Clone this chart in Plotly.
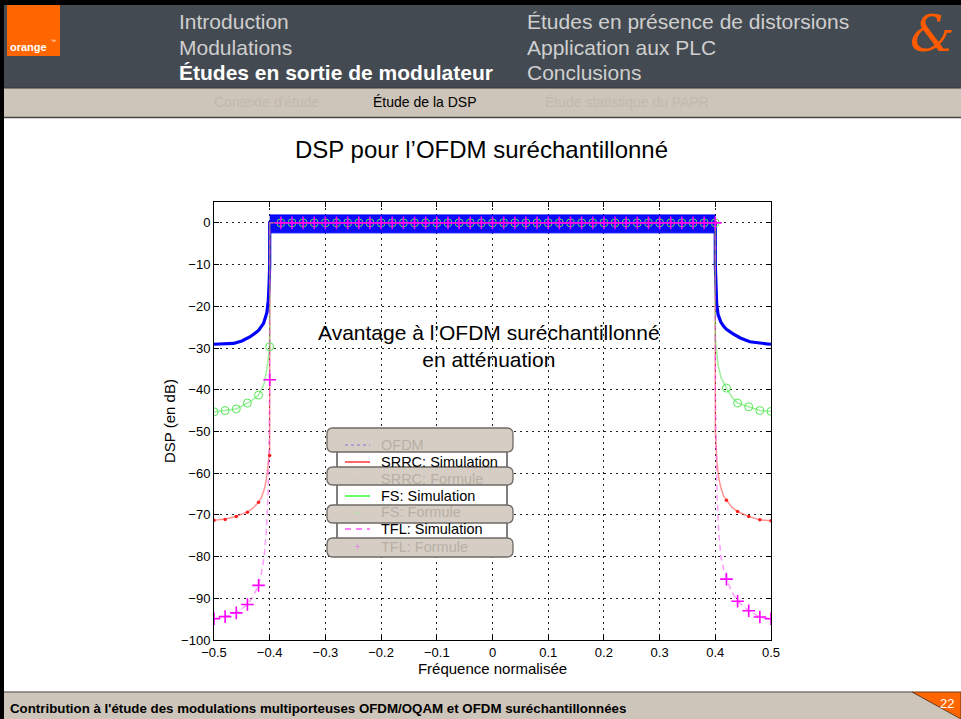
import plotly.graph_objects as go

# ---------------- data ----------------
freq_formula = [-0.50, -0.48, -0.46, -0.44, -0.42, -0.40, -0.38, -0.36, -0.34, -0.32,
                -0.30, -0.28, -0.26, -0.24, -0.22, -0.20, -0.18, -0.16, -0.14, -0.12,
                -0.10, -0.08, -0.06, -0.04, -0.02, 0.00, 0.02, 0.04, 0.06, 0.08,
                0.10, 0.12, 0.14, 0.16, 0.18, 0.20, 0.22, 0.24, 0.26, 0.28,
                0.30, 0.32, 0.34, 0.36, 0.38, 0.40, 0.42, 0.44, 0.46, 0.48, 0.50]
srrc_formula = [-71.3, -71.1, -70.4, -69.4, -67.0, -55.8, 0, 0, 0, 0,
                0, 0, 0, 0, 0, 0, 0, 0, 0, 0,
                0, 0, 0, 0, 0, 0, 0, 0, 0, 0,
                0, 0, 0, 0, 0, 0, 0, 0, 0, 0,
                0, 0, 0, 0, 0, 0, -66.5, -69.2, -70.4, -71.2, -71.4]
fs_formula = [-45.3, -45.0, -44.6, -43.2, -41.3, -29.7, 0, 0, 0, 0,
              0, 0, 0, 0, 0, 0, 0, 0, 0, 0,
              0, 0, 0, 0, 0, 0, 0, 0, 0, 0,
              0, 0, 0, 0, 0, 0, 0, 0, 0, 0,
              0, 0, 0, 0, 0, 0, -39.6, -43.2, -44.1, -45.0, -45.2]
tfl_formula = [-94.9, -94.4, -93.5, -91.5, -86.9, -37.6, 0, 0, 0, 0,
               0, 0, 0, 0, 0, 0, 0, 0, 0, 0,
               0, 0, 0, 0, 0, 0, 0, 0, 0, 0,
               0, 0, 0, 0, 0, 0, 0, 0, 0, 0,
               0, 0, 0, 0, 0, 0, -85.4, -90.7, -93.0, -94.5, -94.9]

ofdm_freq = [-0.5, -0.48, -0.465, -0.45, -0.435, -0.42, -0.411, -0.405, -0.4025, -0.401, -0.4, -0.4,
             0.4, 0.4, 0.401, 0.4025, 0.405, 0.41, 0.415, 0.42, 0.432, 0.445, 0.462, 0.48, 0.492, 0.5]
ofdm_dsp = [-29.1, -29.0, -28.9, -28.3, -27.3, -25.8, -24.1, -21.5, -18.6, -14.5, -10.0, 0.0,
            0.0, -10.0, -15.0, -19.5, -22.0, -23.8, -24.8, -25.5, -26.6, -27.6, -28.5, -28.9, -29.0, -29.1]
ofdm_band_freq = [-0.4, 0.4]
ofdm_band_upper = [1.9, 1.9]
ofdm_band_lower = [-2.4, -2.4]

srrc_sim_freq = [-0.5, -0.48, -0.46, -0.44, -0.43, -0.42, -0.415, -0.41, -0.406, -0.403, -0.401, -0.4, -0.4,
                 0.4, 0.4, 0.401, 0.403, 0.406, 0.41, 0.415, 0.42, 0.43, 0.44, 0.46, 0.48, 0.5]
srrc_sim_dsp = [-71.3, -71.0, -70.4, -69.3, -68.4, -67.0, -65.8, -64.0, -61.5, -58.5, -56.0, -54.5, 0.0,
                0.0, -50.0, -54.0, -57.5, -61.0, -63.5, -65.5, -66.5, -68.2, -69.2, -70.4, -71.2, -71.4]

fs_sim_freq = [-0.5, -0.48, -0.46, -0.44, -0.43, -0.42, -0.41, -0.405, -0.402, -0.4, -0.4,
               0.4, 0.4, 0.402, 0.405, 0.41, 0.42, 0.43, 0.44, 0.46, 0.48, 0.5]
fs_sim_dsp = [-45.3, -45.0, -44.6, -43.2, -42.4, -41.3, -38.5, -35.0, -32.0, -29.7, 0.0,
              0.0, -28.0, -31.0, -34.0, -37.0, -39.6, -41.8, -43.2, -44.1, -45.0, -45.2]

tfl_sim_freq = [-0.5, -0.48, -0.46, -0.44, -0.43, -0.42, -0.415, -0.41, -0.406, -0.403, -0.401, -0.4, -0.4,
                0.4, 0.4, 0.401, 0.403, 0.406, 0.41, 0.415, 0.42, 0.43, 0.44, 0.46, 0.48, 0.5]
tfl_sim_dsp = [-94.9, -94.4, -93.5, -91.5, -89.6, -86.9, -84.0, -80.0, -74.0, -65.0, -52.0, -40.0, 0.0,
               0.0, -40.0, -52.0, -65.0, -74.0, -80.0, -83.0, -85.4, -88.5, -90.7, -93.0, -94.5, -94.9]

x_tick_vals = [-0.5, -0.4, -0.3, -0.2, -0.1, 0.0, 0.1, 0.2, 0.3, 0.4, 0.5]
x_tick_text = ["\u22120.5", "\u22120.4", "\u22120.3", "\u22120.2", "\u22120.1", "0",
               "0.1", "0.2", "0.3", "0.4", "0.5"]
y_tick_vals = [0, -10, -20, -30, -40, -50, -60, -70, -80, -90, -100]
y_tick_text = ["0", "\u221210", "\u221220", "\u221230", "\u221240", "\u221250",
               "\u221260", "\u221270", "\u221280", "\u221290", "\u2212100"]

legend_labels = ["OFDM", "SRRC: Simulation", "SRRC: Formule", "FS: Simulation",
                 "FS: Formule", "TFL: Simulation", "TFL: Formule"]

nav_left = ["Introduction", "Modulations", "Études en sortie de modulateur"]
nav_right = ["Études en présence de distorsions", "Application aux PLC", "Conclusions"]
subnav = ["Contexte d'étude", "Étude de la DSP", "Étude statistique du PAPR"]

# ---------------- geometry helpers ----------------
W, H = 961, 719
L, R, T, B = 214, 771, 202, 640
FONT = "Liberation Sans, Arial, Helvetica, sans-serif"


def X(px):
    return (px - L) / (R - L)


def Y(py):
    return (B - py) / (B - T)


def rect(x0, y0, x1, y1, fill, line_color=None, line_width=0, layer="above"):
    return dict(type="rect", xref="paper", yref="paper", x0=X(x0), x1=X(x1), y0=Y(y1), y1=Y(y0),
                fillcolor=fill, line=dict(color=line_color or fill, width=line_width), layer=layer)


def hline(x0, x1, y, color, width=1, dash="solid"):
    return dict(type="line", xref="paper", yref="paper", x0=X(x0), x1=X(x1), y0=Y(y), y1=Y(y),
                line=dict(color=color, width=width, dash=dash), layer="above")


def rrect(x0, y0, x1, y1, r, fill, line_color, line_width=1.2):
    p = lambda x, y: f"{X(x):.5f},{Y(y):.5f}"
    path = (f"M {p(x0 + r, y0)} L {p(x1 - r, y0)} Q {p(x1, y0)} {p(x1, y0 + r)} "
            f"L {p(x1, y1 - r)} Q {p(x1, y1)} {p(x1 - r, y1)} L {p(x0 + r, y1)} "
            f"Q {p(x0, y1)} {p(x0, y1 - r)} L {p(x0, y0 + r)} Q {p(x0, y0)} {p(x0 + r, y0)} Z")
    return dict(type="path", xref="paper", yref="paper", path=path, fillcolor=fill,
                line=dict(color=line_color, width=line_width), layer="above")


def text(px, py, s, size, color="black", anchor="left", bold=False, family=FONT, vanchor="middle"):
    if bold:
        s = f"<b>{s}</b>"
    return dict(xref="paper", yref="paper", x=X(px), y=Y(py), text=s, showarrow=False,
                xanchor=anchor, yanchor=vanchor, font=dict(size=size, color=color, family=family))


# ---------------- traces ----------------
fig = go.Figure()
fig.add_trace(go.Scatter(x=ofdm_band_freq, y=ofdm_band_upper, mode="lines",
                         line=dict(color="#0000ff", width=1), showlegend=False, hoverinfo="skip"))
fig.add_trace(go.Scatter(x=ofdm_band_freq, y=ofdm_band_lower, mode="lines", fill="tonexty",
                         fillcolor="#0a0aff", line=dict(color="#0000ff", width=1),
                         showlegend=False, hoverinfo="skip"))
fig.add_trace(go.Scatter(x=ofdm_freq, y=ofdm_dsp, mode="lines", name=legend_labels[0],
                         line=dict(color="#0000ff", width=3.2), showlegend=False))
fig.add_trace(go.Scatter(x=srrc_sim_freq, y=srrc_sim_dsp, mode="lines", name=legend_labels[1],
                         line=dict(color="rgba(255,60,60,0.55)", width=1.5), showlegend=False))
fig.add_trace(go.Scatter(x=fs_sim_freq, y=fs_sim_dsp, mode="lines", name=legend_labels[3],
                         line=dict(color="rgba(60,230,60,0.5)", width=1.5), showlegend=False))
fig.add_trace(go.Scatter(x=tfl_sim_freq, y=tfl_sim_dsp, mode="lines", name=legend_labels[5],
                         line=dict(color="rgba(255,60,255,0.5)", width=1.5, dash="6px,4px"),
                         showlegend=False))
fig.add_trace(go.Scatter(x=freq_formula, y=srrc_formula, mode="markers", name=legend_labels[2],
                         marker=dict(symbol="circle", size=3.5, color="#ff2020"), showlegend=False))
fig.add_trace(go.Scatter(x=freq_formula, y=fs_formula, mode="markers", name=legend_labels[4],
                         marker=dict(symbol="circle-open", size=8, color="#55e855",
                                     line=dict(width=1)), showlegend=False))
fig.add_trace(go.Scatter(x=freq_formula, y=tfl_formula, mode="markers", name=legend_labels[6],
                         marker=dict(symbol="cross-thin-open", size=9, color="#ff00ff",
                                     line=dict(width=1.6, color="#ff00ff")), showlegend=False))

# ---------------- slide chrome ----------------
HEADER = "#434a51"
BEIGE = "#cdc5b9"
ORANGE = "#ff6600"
shapes = []
annots = []

# header
shapes.append(rect(0, 0, W, 88, HEADER))
shapes.append(rect(0, 88, W, 117, BEIGE))
shapes.append(hline(0, W, 88, "#3a3530", 1.2))
shapes.append(hline(0, W, 117.5, "#4a4440", 1.5))
shapes.append(rect(0, 0, W, 5, "black"))
shapes.append(rect(7, 5, 60, 56, ORANGE))
annots.append(text(8, 47, "orange", 11, "white", bold=True))
annots.append(text(49, 41, "™", 5, "white"))
annots.append(dict(xref="paper", yref="paper", x=X(932), y=Y(34), text="<i>&amp;</i>",
                   showarrow=False, xanchor="center", yanchor="middle",
                   font=dict(size=50, color="#ff5a00", family="DejaVu Serif, serif")))

for i, s in enumerate(nav_left):
    if i == 2:
        annots.append(text(177, 21 + 26 * i, s, 21, "white", bold=True))
    else:
        annots.append(text(177, 21 + 26 * i, s, 21, "#cfcfcf"))
for i, s in enumerate(nav_right):
    annots.append(text(525, 21 + 26 * i, s, 21, "#cfcfcf"))

annots.append(text(267, 102, subnav[0], 14, "#c2b9ad", anchor="center"))
annots.append(text(425, 102, subnav[1], 14, "black", anchor="center"))
annots.append(text(627, 102, subnav[2], 14, "#c2b9ad", anchor="center"))

# footer
shapes.append(rect(0, 692, W, 719, BEIGE))
shapes.append(hline(0, 912, 692, "#7c7670", 1.5))
shapes.append(dict(type="path", xref="paper", yref="paper",
                   path=f"M {X(912)},{Y(692)} L {X(961)},{Y(692)} L {X(961)},{Y(719)} Z",
                   fillcolor=ORANGE, line=dict(color="#6a3a20", width=1), layer="above"))
annots.append(text(8, 708, "Contribution à l'étude des modulations multiporteuses OFDM/OQAM et OFDM suréchantillonnées",
                   13.3, "black", bold=True))
annots.append(text(947, 703, "22", 13, "white", anchor="center"))

# left border
shapes.append(rect(0, 0, 4, H, "black"))

# title and in-plot annotation
annots.append(text(481, 150, "DSP pour l’OFDM suréchantillonné", 24, "black", anchor="center"))
annots.append(dict(xref="paper", yref="paper", x=X(489), y=Y(346),
                   text="Avantage à l’OFDM suréchantillonné<br>en atténuation", showarrow=False,
                   xanchor="center", yanchor="middle", align="center",
                   font=dict(size=21, color="black", family=FONT)))

# ---------------- manual legend ----------------
shapes.append(rect(337, 431, 507, 556, "white", "black", 1))
row_y = [445, 462, 479, 496, 512, 529, 547]
grey_boxes = [(428, 452), (467, 485), (505, 523), (538, 557)]
for (y0, y1) in grey_boxes:
    shapes.append(rrect(327, y0, 513, y1, 6, "#d6cec4", "#6f6a66", 1.3))
greyed = [True, False, True, False, True, False, True]
for i, lab in enumerate(legend_labels):
    col = "#b8b0a6" if greyed[i] else "black"
    annots.append(text(379, row_y[i], lab, 14.5, col))
# legend samples
shapes.append(hline(345, 370, row_y[0], "#9a98d8", 1.5, "dot"))
shapes.append(hline(345, 370, row_y[1], "#ff0000", 1.2))
shapes.append(hline(345, 370, row_y[3], "#00ff00", 1.2))
shapes.append(hline(345, 370, row_y[5], "#ff00ff", 1.2, "6px,5px"))
annots.append(text(357, row_y[2], "·", 10, "#e0a8a0", anchor="center"))
annots.append(text(357, row_y[4], "+", 10, "#b8dcb0", anchor="center"))
annots.append(text(357, row_y[6], "+", 12, "#e098d8", anchor="center"))

# ---------------- layout ----------------
axis_common = dict(showline=True, linecolor="black", linewidth=1, mirror="ticks",
                   ticks="inside", ticklen=5, tickcolor="black", tickwidth=1,
                   showgrid=True, gridcolor="#222222", gridwidth=1, griddash="2px,4px",
                   zeroline=False, tickfont=dict(size=13, color="black", family=FONT))

fig.update_layout(
    width=W, height=H,
    margin=dict(l=L, r=W - R, t=T, b=H - B, pad=0),
    paper_bgcolor="white", plot_bgcolor="white",
    showlegend=False,
    font=dict(family=FONT, color="black"),
    xaxis=dict(range=[-0.5, 0.5], tickvals=x_tick_vals, ticktext=x_tick_text,
               title=dict(text="Fréquence normalisée", font=dict(size=15), standoff=1),
               **axis_common),
    yaxis=dict(range=[-100, 5], tickvals=y_tick_vals, ticktext=y_tick_text,
               title=dict(text="DSP (en dB)", font=dict(size=15), standoff=1),
               **axis_common),
    shapes=shapes,
    annotations=annots,
)

fig.write_html("out.html", config={"displayModeBar": False},
               post_script="document.body.style.margin='0px';")
